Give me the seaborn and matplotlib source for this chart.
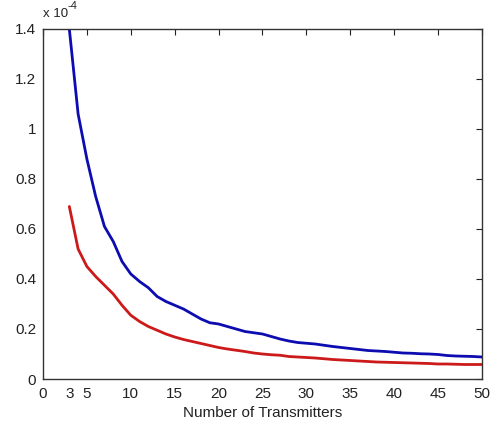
import numpy as np
import pandas as pd
import seaborn as sns
import matplotlib
matplotlib.use("Agg")
import matplotlib.pyplot as plt
from matplotlib.ticker import FuncFormatter

# Number of transmitters (x axis)
transmitters = list(range(3, 51))

# Upper curve (blue), in units of 1e-4
blue_vals = [1.40, 1.06, 0.88, 0.73, 0.61, 0.55, 0.47, 0.42, 0.39, 0.365,
             0.33, 0.31, 0.295, 0.28, 0.26, 0.24, 0.225, 0.22, 0.21, 0.20,
             0.19, 0.185, 0.18, 0.17, 0.16, 0.152, 0.146, 0.143, 0.14, 0.135,
             0.13, 0.126, 0.122, 0.118, 0.114, 0.112, 0.11, 0.107, 0.104, 0.103,
             0.101, 0.10, 0.098, 0.094, 0.092, 0.091, 0.09, 0.088]

# Lower curve (red), in units of 1e-4
red_vals = [0.69, 0.52, 0.45, 0.41, 0.375, 0.34, 0.295, 0.255, 0.23, 0.21,
            0.195, 0.18, 0.168, 0.158, 0.15, 0.142, 0.134, 0.126, 0.12, 0.115,
            0.11, 0.104, 0.10, 0.097, 0.095, 0.09, 0.088, 0.086, 0.084, 0.081,
            0.078, 0.076, 0.074, 0.072, 0.07, 0.068, 0.067, 0.066, 0.065, 0.064,
            0.063, 0.062, 0.06, 0.06, 0.059, 0.058, 0.058, 0.058]

x_ticks = [0, 3, 5, 10, 15, 20, 25, 30, 35, 40, 45, 50]
y_ticks = [0, 0.2, 0.4, 0.6, 0.8, 1.0, 1.2, 1.4]
scale = 1e-4

sns.set_style("white")
plt.rcParams['font.family'] = ['Liberation Sans', 'DejaVu Sans']

df = pd.DataFrame({
    "n": transmitters * 2,
    "value": [v * scale for v in blue_vals] + [v * scale for v in red_vals],
    "series": ["upper"] * len(blue_vals) + ["lower"] * len(red_vals),
})

fig = plt.figure(figsize=(4.93, 4.30), dpi=100)
ax = fig.add_axes([0.0872, 0.1186, 0.8905, 0.814])

sns.lineplot(data=df, x="n", y="value", hue="series",
             palette={"upper": "#0c0cb0", "lower": "#cc1a1a"},
             linewidth=2.0, legend=False, ax=ax)

ax.set_xlim(0, 50)
ax.set_ylim(0, 1.4 * scale)
ax.set_xticks(x_ticks)
ax.set_yticks([t * scale for t in y_ticks])
ax.xaxis.set_major_formatter(FuncFormatter(lambda v, p: "%g" % v))
ax.yaxis.set_major_formatter(FuncFormatter(lambda v, p: "%g" % round(v / scale, 4)))

ax.tick_params(direction="in", length=4, width=0.8, top=True, right=True,
               labelsize=11, colors="#222222")
ax.tick_params(axis="x", pad=6)
ax.tick_params(axis="y", pad=5)
for s in ax.spines.values():
    s.set_visible(True)
    s.set_color("#333333")
    s.set_linewidth(1.0)

ax.set_xlabel("Number of Transmitters", fontsize=11, color="#222222", labelpad=3)
ax.set_ylabel("")

# exponent marker above the y axis
ax.text(0.0, 1.025, "x 10", transform=ax.transAxes, fontsize=9.5,
        color="#222222", ha="left", va="bottom")
ax.text(0.056, 1.052, "-4", transform=ax.transAxes, fontsize=8,
        color="#222222", ha="left", va="bottom")

fig.savefig("out.png", dpi=100)
